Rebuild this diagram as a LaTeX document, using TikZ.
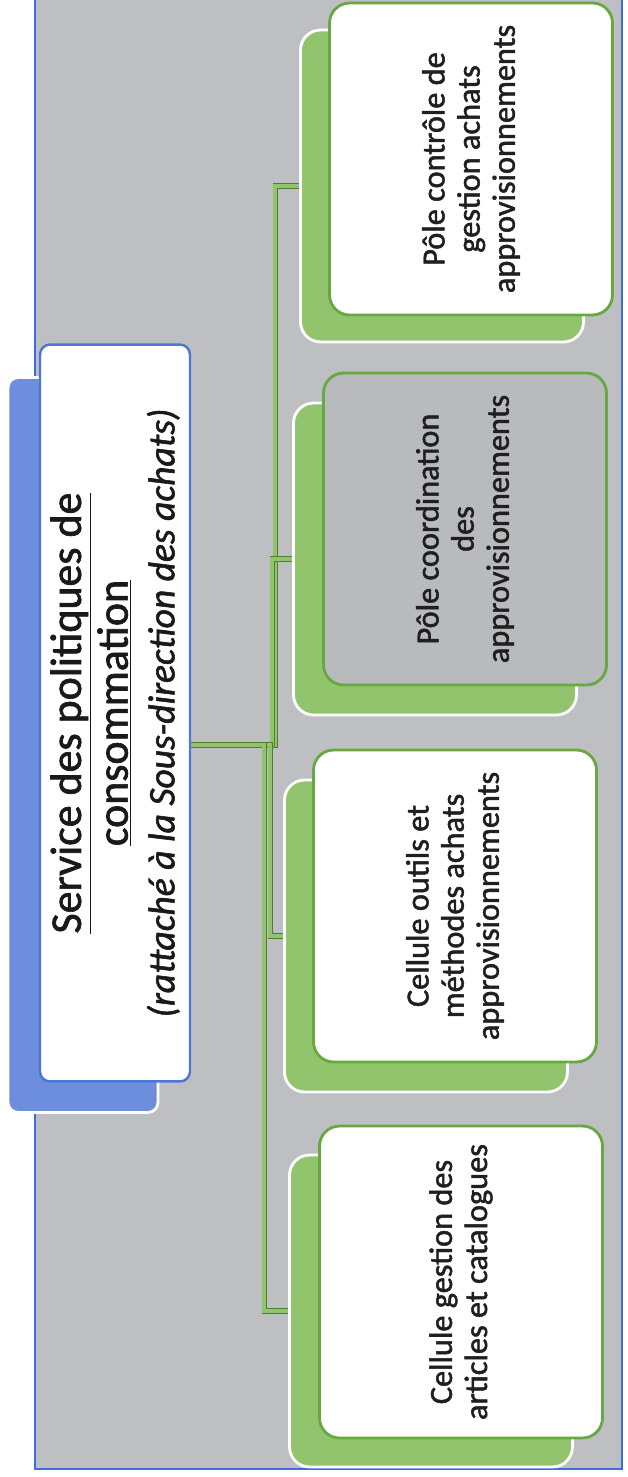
\documentclass[tikz,border=0pt]{standalone}
\usepackage{fontspec}
\setmainfont{Carlito}[FakeBold=1.5]

\definecolor{panelgray}{RGB}{190,191,195}
\definecolor{panelblue}{RGB}{60,110,215}
\definecolor{shadowblue}{RGB}{108,142,220}
\definecolor{frameblue}{RGB}{74,120,210}
\definecolor{boxgreen}{RGB}{146,196,110}
\definecolor{edgegreen}{RGB}{104,168,64}
\definecolor{polegray}{RGB}{184,186,190}

\begin{document}
\begin{tikzpicture}[x=0.02cm,y=-0.02cm,
    back node/.style={rectangle,rounded corners=0.4cm,fill=boxgreen,draw=white,line width=1.6pt,
                      minimum width=5.66cm,minimum height=6.24cm,inner sep=0pt},
    front node/.style={rectangle,rounded corners=0.4cm,fill=white,draw=edgegreen,line width=1.6pt,
                       rotate=90,minimum width=6.24cm,minimum height=5.66cm,inner sep=0pt,
                       align=center,font=\fontsize{18.4}{20}\selectfont,text=black!88},
    link/.style={draw=edgegreen!75!black,double=boxgreen,double distance=2pt,line width=0.45pt}]

  \useasboundingbox (0,0) rectangle (627,1477);

  % scanned panel
  \fill[panelgray] (35,-5) rectangle (622,1469);
  \draw[panelblue,line width=0.8pt] (35,-5) -- (35,1469) -- (622,1469) -- (622,-5);

  % service
  \node[rectangle,rounded corners=0.2cm,fill=shadowblue,draw=white,line width=1.6pt,
        minimum width=3.0cm,minimum height=14.7cm,inner sep=0pt] (mb) at (83,745) {};
  \node[rectangle,rounded corners=0.2cm,fill=white,draw=frameblue,line width=1.4pt,rotate=90,
        minimum width=14.74cm,minimum height=3.0cm,inner sep=0pt,align=center,
        font=\fontsize{25}{26.6}\selectfont,text=black!90] (mf) at (115,713)
    {\underline{Service des politiques de}\\ \underline{consommation}\\
     {\fontsize{21.4}{23}\selectfont\itshape (rattaché à la Sous-direction des achats)}};

  % poles et cellules
  \node[back node] (b1) at (442,186) {};
  \node[back node] (b2) at (435,559) {};
  \node[back node] (b3) at (426,936) {};
  \node[back node] (b4) at (431,1311) {};

  \node[front node] (f1) at (471,159) {Pôle contrôle de\\gestion achats\\approvisionnements};
  \node[front node,fill=polegray] (f2) at (465,529) {Pôle coordination\\des\\approvisionnements};
  \node[front node] (f3) at (455,906) {Cellule outils et\\méthodes achats\\approvisionnements};
  \node[front node] (f4) at (461,1282) {Cellule gestion des\\articles et catalogues};

  \draw[link] (mf.south |- mb.center) -- ++(84,0) |- (b1.west);
  \draw[link] (mf.south |- mb.center) -- ++(81,0) |- (b2.west);
  \draw[link] (mf.south |- mb.center) -- ++(79,0) |- (b3.west);
  \draw[link] (mf.south |- mb.center) -- ++(73,0) |- (b4.west);
\end{tikzpicture}
\end{document}
